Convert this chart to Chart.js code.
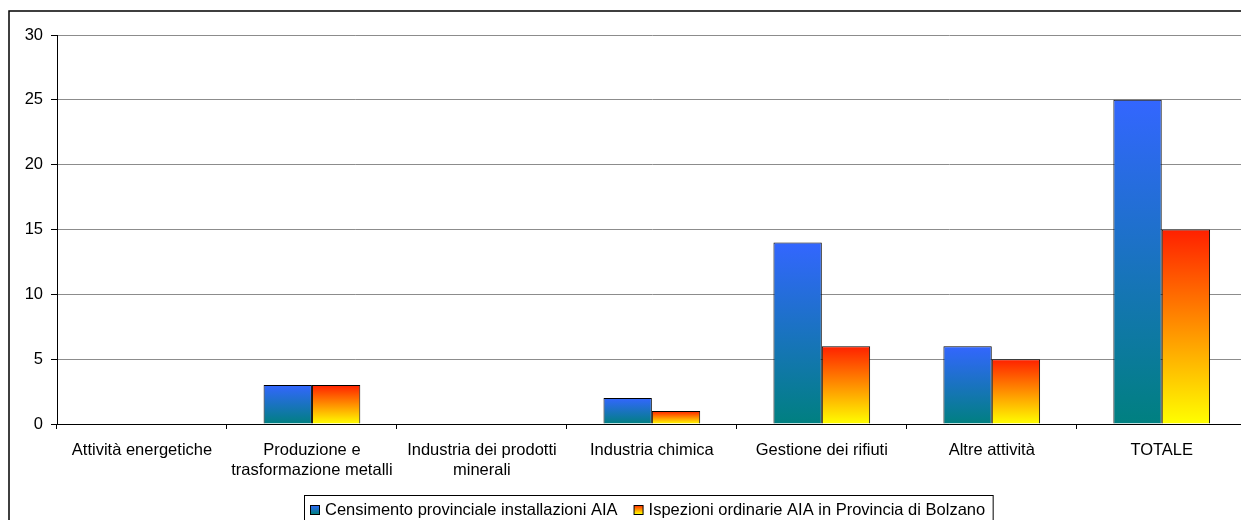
<!DOCTYPE html>
<html>
<head>
<meta charset="utf-8">
<script src="https://cdn.jsdelivr.net/npm/chart.js@4/dist/chart.umd.min.js"></script>
<style>
  html, body { margin: 0; padding: 0; background: #fff; overflow: hidden; }
  #wrap { position: absolute; left: 0; top: 0; width: 1260px; height: 540px; }
</style>
</head>
<body>
<div id="wrap"><canvas id="chart" width="1260" height="540"></canvas></div>
<script>
const categorie = [
    'Attività energetiche',
    ['Produzione e', 'trasformazione metalli'],
    ['Industria dei prodotti', 'minerali'],
    'Industria chimica',
    'Gestione dei rifiuti',
    'Altre attività',
    'TOTALE'
];
const censimento = [0, 3, 0, 2, 14, 6, 25];
const ispezioni = [0, 3, 0, 1, 6, 5, 15];
const nomiSerie = ['Censimento provinciale installazioni AIA', 'Ispezioni ordinarie AIA in Provincia di Bolzano'];
const yTicks = [0, 5, 10, 15, 20, 25, 30];

const FONT = "'Liberation Sans', Arial, sans-serif";
const FS = 16.5;
const blu = ['#3366ff', '#008080'];
const arancio = ['#ff2000', '#ffff00'];

function barGradient(c, cols) {
    const chart = c.chart;
    const y = chart.scales.y;
    if (!chart.chartArea || !y || !c.parsed) return cols[0];
    const y0 = y.getPixelForValue(0);
    const y1 = y.getPixelForValue(c.parsed.y);
    if (!isFinite(y0) || !isFinite(y1)) return cols[0];
    if (Math.abs(y0 - y1) < 1) return cols[1];
    const g = chart.ctx.createLinearGradient(0, y1, 0, y0);
    g.addColorStop(0, cols[0]);
    g.addColorStop(1, cols[1]);
    return g;
}

// cornice esterna + legenda con bordo
const framePlugin = {
    id: 'frame',
    afterDraw(chart) {
        const ctx = chart.ctx;
        ctx.save();
        ctx.strokeStyle = '#000';
        ctx.lineWidth = 1.5;
        ctx.strokeRect(9, 11, 1300, 600);

        // legenda
        ctx.font = FS + 'px ' + FONT;
        const colori = [blu, arancio];
        const x0 = 304.5, y0 = 495.5;
        let x = 310;
        const w = [];
        nomiSerie.forEach(n => w.push(ctx.measureText(n).width));
        const right = x + 15 * 2 + w[0] + 16 + w[1] + 8;
        ctx.lineWidth = 1;
        ctx.strokeStyle = '#000';
        ctx.fillStyle = '#fff';
        ctx.fillRect(x0, y0, right - x0, 30);
        ctx.strokeRect(x0, y0, right - x0, 30);
        nomiSerie.forEach((n, i) => {
            const g = ctx.createLinearGradient(0, 505, 0, 514);
            g.addColorStop(0, colori[i][0]);
            g.addColorStop(1, colori[i][1]);
            ctx.fillStyle = g;
            ctx.fillRect(x + 0.5, 505.5, 9, 9);
            ctx.strokeStyle = '#000';
            ctx.strokeRect(x + 0.5, 505.5, 9, 9);
            ctx.fillStyle = '#000';
            ctx.textBaseline = 'middle';
            ctx.textAlign = 'left';
            ctx.fillText(n, x + 15, 510);
            x += 15 + w[i] + 16;
        });
        ctx.restore();
    }
};

function init() {
    const ctx = document.getElementById('chart');
    new Chart(ctx, {
        type: 'bar',
        data: {
            labels: categorie,
            datasets: [
                { label: nomiSerie[0], data: censimento, backgroundColor: c => barGradient(c, blu), borderColor: '#000', borderWidth: 1 },
                { label: nomiSerie[1], data: ispezioni, backgroundColor: c => barGradient(c, arancio), borderColor: '#000', borderWidth: 1 }
            ]
        },
        options: {
            responsive: false,
            animation: false,
            devicePixelRatio: 1,
            layout: { padding: { left: 0, top: 35, right: 13.3, bottom: 56 } },
            datasets: { bar: { categoryPercentage: 0.569, barPercentage: 1 } },
            plugins: { legend: { display: false }, tooltip: { enabled: false }, title: { display: false } },
            scales: {
                x: {
                    afterFit: s => { s.height = 60; },
                    grid: { offset: true, drawOnChartArea: false, drawTicks: true, tickLength: 5, tickColor: '#000', color: '#000' },
                    border: { color: '#000', width: 1 },
                    ticks: { color: '#000', font: { family: FONT, size: FS, lineHeight: 1.2 }, padding: 12, maxRotation: 0, autoSkip: false }
                },
                y: {
                    min: 0, max: 30,
                    afterFit: s => { s.width = 57; },
                    afterBuildTicks: s => { s.ticks = yTicks.map(v => ({ value: v })); },
                    grid: {
                        color: c => c.tick && c.tick.value === 0 ? '#000' : '#8c8c8c',
                        tickColor: '#000', tickLength: 6, lineWidth: 1
                    },
                    border: { color: '#000', width: 1 },
                    ticks: { color: '#000', font: { family: FONT, size: FS }, padding: 8 }
                }
            }
        },
        plugins: [framePlugin]
    });
}

document.addEventListener('DOMContentLoaded', init);
</script>
</body>
</html>
